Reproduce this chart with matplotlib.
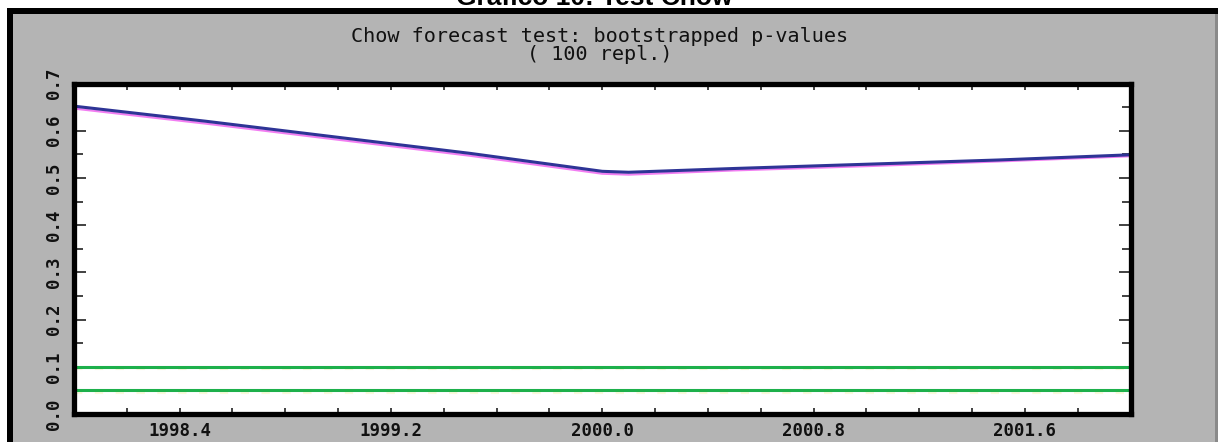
#!/usr/bin/env python3
import matplotlib
matplotlib.use("Agg")
import matplotlib.pyplot as plt
from matplotlib.patches import Rectangle
from matplotlib.ticker import FixedLocator

W, H = 1222, 442
DPI = 100

COLORS = {
    "panel": "#B4B4B4",
    "frame": "#000000",
    "panel_edge": "#8A8A8A",
    "boot": "#2E3496",
    "alt": "#F27EF2",
    "crit": "#1DB04B",
    "crit_shadow": "#FAFADC",
    "tick": "#333333",
    "text": "#111111",
}

# bootstrapped p-values (blue) and the nearly identical magenta series
years = [1998.0, 1998.5, 1999.0, 1999.5, 2000.0, 2000.1, 2000.5, 2001.0, 2001.5, 2002.0]
p_boot = [0.652, 0.620, 0.586, 0.552, 0.514, 0.512, 0.520, 0.529, 0.538, 0.549]
p_alt = [0.647, 0.615, 0.581, 0.547, 0.509, 0.507, 0.516, 0.525, 0.535, 0.546]
crit_levels = [0.10, 0.05]

x_major = [1998.4, 1999.2, 2000.0, 2000.8, 2001.6]
x_labels = ["1998.4", "1999.2", "2000.0", "2000.8", "2001.6"]
x_minor = [1998.2, 1998.6, 1998.8, 1999.0, 1999.4, 1999.6, 1999.8,
           2000.2, 2000.4, 2000.6, 2001.0, 2001.2, 2001.4, 2001.8]
y_major = [0.0, 0.1, 0.2, 0.3, 0.4, 0.5, 0.6, 0.7]
y_labels = ["0.0", "0.1", "0.2", "0.3", "0.4", "0.5", "0.6", "0.7"]
y_minor = [0.05, 0.15, 0.25, 0.35, 0.45, 0.55, 0.65]


def fx(px):
    return px / W


def fy(px):
    # pixel row measured from the top -> figure fraction
    return 1 - px / H


fig = plt.figure(figsize=(W / DPI, H / DPI), dpi=DPI, facecolor="white")

# grey panel with its black left/top edge (drawn beneath the axes)
panel_kw = dict(transform=fig.transFigure, edgecolor="none", zorder=-2)
fig.patches.append(Rectangle((fx(7), 0), fx(1218 - 7), (H - 8) / H,
                             facecolor=COLORS["panel"], **panel_kw))
fig.patches.append(Rectangle((fx(7), 0), fx(6), (H - 8) / H,
                             facecolor=COLORS["frame"], **panel_kw))
fig.patches.append(Rectangle((fx(7), fy(14)), fx(1218 - 7), 6 / H,
                             facecolor=COLORS["frame"], **panel_kw))
fig.patches.append(Rectangle((fx(1215), 0), fx(3), (H - 14) / H,
                             facecolor=COLORS["panel_edge"], **panel_kw))

# the title is clipped by the top edge in the original as well
fig.text(fx(594), fy(5), "Grafico 10: Test Chow", ha="center", va="baseline",
         fontsize=19, fontweight="bold", family="Liberation Sans", color="black")
fig.text(fx(600), fy(37), "Chow forecast test: bootstrapped p-values", ha="center", va="center",
         fontsize=14.5, family="DejaVu Sans Mono", color=COLORS["text"])
fig.text(fx(600), fy(54), "( 100 repl.)", ha="center", va="center",
         fontsize=14.5, family="DejaVu Sans Mono", color=COLORS["text"])

ax = fig.add_axes([fx(74), fy(414), fx(1130.5 - 74), (414 - 83.5) / H])
ax.set_zorder(2)
ax.set_facecolor("white")
ax.set_xlim(1998.0, 2002.0)
ax.set_ylim(0.0, 0.7)

for lvl in crit_levels:
    ax.axhline(lvl - 0.005, color=COLORS["crit_shadow"], lw=1.5, ls=(0, (4, 6)), zorder=1)
    ax.axhline(lvl, color=COLORS["crit"], lw=2.2, zorder=3)

ax.plot(years, p_alt, color=COLORS["alt"], lw=1.6, zorder=2)
ax.plot(years, p_boot, color=COLORS["boot"], lw=2.2, zorder=4)

for side in ["left", "right", "top", "bottom"]:
    ax.spines[side].set_linewidth(3.8)
    ax.spines[side].set_color(COLORS["frame"])
    ax.spines[side].set_zorder(5)

ax.set_xticks(x_major, x_labels)
ax.xaxis.set_minor_locator(FixedLocator(x_minor))
ax.set_yticks(y_major, y_labels)
ax.yaxis.set_minor_locator(FixedLocator(y_minor))

ax.tick_params(axis="both", which="both", direction="in", top=True, right=True,
               color=COLORS["tick"], width=1.3, labelcolor=COLORS["text"])
ax.tick_params(axis="x", which="both", length=4.5, pad=5.5)
ax.tick_params(axis="y", which="major", length=8.6, pad=8)
ax.tick_params(axis="y", which="minor", length=6.2)

for lab in ax.get_xticklabels():
    lab.set_family("DejaVu Sans Mono")
    lab.set_fontweight("bold")
    lab.set_fontsize(12.5)
for lab in ax.get_yticklabels():
    lab.set_family("DejaVu Sans Mono")
    lab.set_fontweight("bold")
    lab.set_fontsize(12.5)
    lab.set_rotation(90)
    lab.set_verticalalignment("center")

fig.savefig("out.png", dpi=DPI, facecolor="white")
